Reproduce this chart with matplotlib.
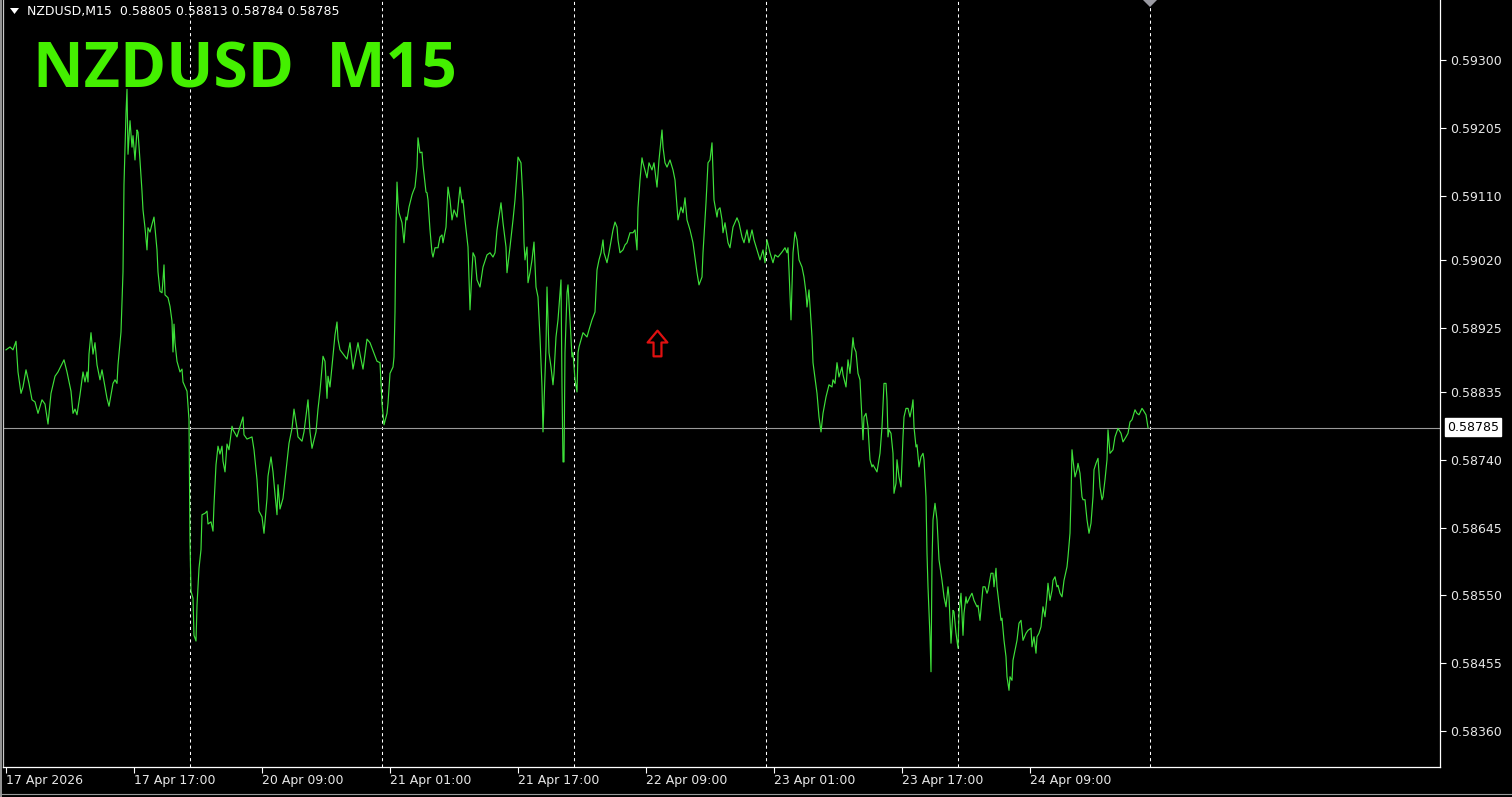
import matplotlib
matplotlib.use("Agg")
import matplotlib.pyplot as plt
from matplotlib.patches import Polygon
from matplotlib.lines import Line2D
from matplotlib.path import Path

# ---------------- data ----------------
symbol_title = "NZDUSD  M15"
header_text = "NZDUSD,M15  0.58805 0.58813 0.58784 0.58785"
last_price = 0.58785

# bar index (M15 bars since 17 Apr 01:00) and close price
bars = [
    0, 2, 3.5, 5, 6, 7.5, 8.5, 10, 11.5, 13, 14.5, 16, 18, 19.5, 21, 22.5, 24.5, 26, 29, 30.5,
    32.5, 33.5, 34.5, 35.5, 37, 38.5, 39.5, 40.5, 41, 41.5, 42.5, 43.5, 44.5, 45.5, 47, 48, 50.5, 51.5, 53.5, 54.5,
    55.5, 56, 57.5, 58, 58.5, 59, 60, 60.5, 61, 62, 63, 63.5, 64.5, 65.5, 66, 67, 68, 68.5, 69.5, 70.5,
    71, 72, 73, 74, 74.5, 75.5, 76, 77, 78, 78.5, 79, 79.5, 81, 82, 83, 83.5, 84, 84.5, 85.5, 87,
    88, 88.5, 90.5, 91, 91.5, 92, 92.5, 93.5, 94, 95, 95.5, 96.5, 97.5, 98, 99.5, 100.5, 101, 102.5, 103.5, 104,
    105, 106, 107, 108, 108.5, 109.5, 110.5, 111.5, 113, 113.5, 115.5, 116, 118.5, 119, 120.5, 123, 124, 125.5, 126.5, 128,
    129, 130.5, 131, 132.5, 133.5, 134.5, 135.5, 136, 137, 138.5, 139.5, 141.5, 143, 144, 145.5, 146, 148, 149, 151, 152,
    153, 155, 156, 157, 158.5, 159.5, 160.5, 161, 162, 164.5, 165.5, 166, 167, 170.5, 172, 173.5, 176, 177, 178.5, 180.5,
    182, 185.5, 187, 188, 189, 190.5, 191, 192, 193.5, 194, 194.5, 195, 195.5, 196, 196.5, 198, 199, 200, 200.5, 201.5,
    203, 203.5, 204.5, 205.5, 206, 207, 208, 208.5, 210, 210.5, 211, 212, 213, 213.5, 214.5, 216, 217, 218, 218.5, 220,
    221, 222, 223, 224, 225.5, 227, 228, 228.5, 229.5, 231, 232, 233, 233.5, 234.5, 235.5, 237, 238.5, 240.5, 242, 243.5,
    244.5, 245.5, 247.5, 248.5, 250, 250.5, 252, 253.5, 254.5, 255.5, 256, 257.5, 258.5, 259, 259.5, 260.5, 261, 262, 263, 264,
    265, 266, 267, 268, 268.5, 269, 270, 270.5, 271, 271.5, 272.5, 273.5, 274, 275, 276, 276.5, 277.5, 278, 278.5, 279,
    279.5, 280.5, 281, 282, 283, 283.5, 284.5, 285.5, 286, 286.5, 287.5, 288.5, 290.5, 291.5, 293, 294.5, 295.5, 296.5, 297.5, 298.5,
    299, 300.5, 301.5, 303.5, 304.5, 305.5, 306, 307, 308.5, 309.5, 310.5, 312, 313.5, 314.5, 315.5, 316, 317, 318, 318.5, 320.5,
    321.5, 323, 324, 325.5, 326.5, 328, 328.5, 329.5, 330.5, 332, 333.5, 334.5, 335.5, 336, 337.5, 338.5, 339.5, 340.5, 342, 343.5,
    345.5, 346.5, 348, 348.5, 350, 351, 352, 353, 354, 355.5, 356, 357, 358, 358.5, 359.5, 361, 362, 363.5, 365.5, 366.5,
    368, 369, 370.5, 371.5, 373, 374, 375.5, 377, 378.5, 379.5, 380.5, 382, 383.5, 384.5, 386, 388, 389.5, 390.5, 391, 391.5,
    392.5, 393.5, 394.5, 395.5, 396.5, 398, 399, 400, 400.5, 401.5, 403, 403.5, 405.5, 406.5, 407.5, 408.5, 410, 411.5, 413, 413.5,
    414.5, 415.5, 416.5, 418, 418.5, 420, 421, 422, 423.5, 424, 425, 426, 427, 428, 428.5, 429, 430, 431, 432, 433,
    433.5, 435.5, 437, 438, 439, 440, 440.5, 441, 441.5, 442.5, 443.5, 444, 445, 445.5, 446.5, 447.5, 448.5, 449, 450, 451,
    452, 453, 453.5, 454, 455, 455.5, 456.5, 457.5, 458.5, 459, 460, 460.5, 461, 462, 462.5, 463, 463.5, 464.5, 465.5, 466.5,
    468, 469, 470, 471, 471.5, 472.5, 473.5, 474, 475, 476, 476.5, 477.5, 478.5, 479, 480, 480.5, 482, 483, 484, 485.5,
    486, 487, 488, 488.5, 489.5, 490.5, 491, 492.5, 493.5, 494, 495, 495.5, 496.5, 497.5, 498, 499, 500, 500.5, 501.5, 502,
    503, 503.5, 504.5, 505.5, 506.5, 507.5, 508, 508.5, 510, 511, 512.5, 513, 514, 515, 515.5, 516.5, 517.5, 518.5, 519.5, 520.5,
    521, 522, 523, 523.5, 524.5, 525.5, 526, 527, 528, 529, 530.5, 531, 532, 532.5, 533, 533.5, 534.5, 535.5, 536, 537,
    538, 538.5, 539.5, 540.5, 541.5, 542.5, 543.5, 544, 545, 546, 547, 548, 548.5, 549.5, 550.5, 551, 552, 553.5, 554.5, 556,
    557.5, 558.5, 560, 561, 562, 563, 564.5, 565.5, 566.5, 568, 568.5, 570, 571,
]
prices = [
    0.58894, 0.58898, 0.58894, 0.58906, 0.58863, 0.58833, 0.58842, 0.58866, 0.58847, 0.58824, 0.58821, 0.58805, 0.58824, 0.58818, 0.58790, 0.58833, 0.58857, 0.58863, 0.58880, 0.58863,
    0.58836, 0.58805, 0.58811, 0.58803, 0.58831, 0.58863, 0.58849, 0.58863, 0.58849, 0.58888, 0.58918, 0.58888, 0.58904, 0.58873, 0.58852, 0.58866, 0.58826, 0.58815, 0.58847, 0.58852,
    0.58847, 0.58873, 0.58919, 0.58961, 0.59003, 0.59126, 0.59226, 0.59259, 0.59168, 0.59215, 0.59178, 0.59194, 0.59160, 0.59202, 0.59199, 0.59159, 0.59116, 0.59090, 0.59065, 0.59034,
    0.59065, 0.59059, 0.59070, 0.59080, 0.59065, 0.59034, 0.59003, 0.58976, 0.58974, 0.58992, 0.59013, 0.58971, 0.58967, 0.58955, 0.58934, 0.58891, 0.58930, 0.58904, 0.58878, 0.58863,
    0.58867, 0.58849, 0.58836, 0.58815, 0.58796, 0.58625, 0.58556, 0.58546, 0.58494, 0.58486, 0.58536, 0.58588, 0.58614, 0.58663, 0.58665, 0.58668, 0.58650, 0.58653, 0.58640, 0.58677,
    0.58733, 0.58759, 0.58748, 0.58759, 0.58738, 0.58723, 0.58762, 0.58754, 0.58787, 0.58782, 0.58772, 0.58777, 0.58800, 0.58775, 0.58769, 0.58772, 0.58754, 0.58712, 0.58668, 0.58660,
    0.58637, 0.58686, 0.58717, 0.58744, 0.58723, 0.58692, 0.58663, 0.58705, 0.58671, 0.58686, 0.58712, 0.58763, 0.58784, 0.58811, 0.58784, 0.58772, 0.58766, 0.58779, 0.58824, 0.58779,
    0.58756, 0.58779, 0.58811, 0.58836, 0.58885, 0.58878, 0.58826, 0.58857, 0.58842, 0.58915, 0.58933, 0.58909, 0.58894, 0.58881, 0.58904, 0.58867, 0.58904, 0.58888, 0.58867, 0.58909,
    0.58904, 0.58878, 0.58876, 0.58819, 0.58789, 0.58805, 0.58819, 0.58861, 0.58870, 0.58884, 0.58947, 0.59066, 0.59129, 0.59100, 0.59086, 0.59072, 0.59044, 0.59080, 0.59076, 0.59094,
    0.59111, 0.59115, 0.59122, 0.59150, 0.59191, 0.59170, 0.59171, 0.59153, 0.59115, 0.59114, 0.59104, 0.59062, 0.59030, 0.59024, 0.59037, 0.59037, 0.59052, 0.59055, 0.59044, 0.59066,
    0.59122, 0.59104, 0.59076, 0.59090, 0.59080, 0.59122, 0.59100, 0.59104, 0.59076, 0.59038, 0.58950, 0.59006, 0.59030, 0.59024, 0.58992, 0.58982, 0.59010, 0.59027, 0.59030, 0.59024,
    0.59030, 0.59062, 0.59100, 0.59072, 0.59038, 0.59002, 0.59038, 0.59076, 0.59104, 0.59142, 0.59164, 0.59156, 0.59104, 0.59044, 0.59020, 0.59038, 0.58988, 0.59002, 0.59020, 0.59045,
    0.58982, 0.58968, 0.58912, 0.58842, 0.58779, 0.58819, 0.58898, 0.58982, 0.58936, 0.58890, 0.58870, 0.58845, 0.58861, 0.58912, 0.58936, 0.58954, 0.58992, 0.58842, 0.58737, 0.58737,
    0.58890, 0.58974, 0.58985, 0.58936, 0.58884, 0.58890, 0.58852, 0.58835, 0.58890, 0.58898, 0.58908, 0.58918, 0.58912, 0.58922, 0.58936, 0.58947, 0.59006, 0.59020, 0.59030, 0.59048,
    0.59030, 0.59016, 0.59030, 0.59062, 0.59073, 0.59066, 0.59048, 0.59030, 0.59034, 0.59041, 0.59044, 0.59058, 0.59058, 0.59062, 0.59034, 0.59093, 0.59132, 0.59163, 0.59156, 0.59135,
    0.59156, 0.59146, 0.59156, 0.59122, 0.59160, 0.59202, 0.59178, 0.59156, 0.59150, 0.59160, 0.59146, 0.59132, 0.59094, 0.59076, 0.59094, 0.59086, 0.59107, 0.59076, 0.59062, 0.59044,
    0.59002, 0.58985, 0.58996, 0.59030, 0.59100, 0.59156, 0.59160, 0.59184, 0.59104, 0.59080, 0.59090, 0.59093, 0.59076, 0.59058, 0.59072, 0.59044, 0.59037, 0.59066, 0.59079, 0.59072,
    0.59052, 0.59044, 0.59062, 0.59044, 0.59062, 0.59048, 0.59034, 0.59020, 0.59034, 0.59016, 0.59048, 0.59030, 0.59016, 0.59027, 0.59024, 0.59031, 0.59037, 0.59030, 0.59037, 0.59006,
    0.58936, 0.59030, 0.59059, 0.59048, 0.59020, 0.59010, 0.58996, 0.58974, 0.58954, 0.58978, 0.58912, 0.58876, 0.58833, 0.58800, 0.58779, 0.58805, 0.58828, 0.58845, 0.58842, 0.58852,
    0.58847, 0.58876, 0.58856, 0.58870, 0.58859, 0.58842, 0.58880, 0.58861, 0.58911, 0.58898, 0.58891, 0.58861, 0.58852, 0.58796, 0.58768, 0.58800, 0.58805, 0.58786, 0.58740, 0.58730,
    0.58733, 0.58723, 0.58749, 0.58786, 0.58847, 0.58847, 0.58824, 0.58772, 0.58782, 0.58777, 0.58749, 0.58693, 0.58707, 0.58740, 0.58716, 0.58702, 0.58772, 0.58800, 0.58812, 0.58812,
    0.58800, 0.58814, 0.58824, 0.58786, 0.58758, 0.58761, 0.58730, 0.58744, 0.58749, 0.58740, 0.58688, 0.58609, 0.58562, 0.58492, 0.58443, 0.58595, 0.58656, 0.58679, 0.58656, 0.58600,
    0.58571, 0.58548, 0.58534, 0.58562, 0.58548, 0.58483, 0.58529, 0.58527, 0.58497, 0.58476, 0.58525, 0.58553, 0.58494, 0.58525, 0.58548, 0.58539, 0.58548, 0.58553, 0.58543, 0.58534,
    0.58536, 0.58515, 0.58546, 0.58562, 0.58562, 0.58553, 0.58557, 0.58581, 0.58581, 0.58562, 0.58588, 0.58562, 0.58539, 0.58515, 0.58518, 0.58487, 0.58464, 0.58436, 0.58417, 0.58436,
    0.58431, 0.58459, 0.58473, 0.58487, 0.58511, 0.58515, 0.58501, 0.58487, 0.58497, 0.58501, 0.58504, 0.58478, 0.58492, 0.58469, 0.58492, 0.58497, 0.58506, 0.58534, 0.58520, 0.58548,
    0.58567, 0.58543, 0.58557, 0.58571, 0.58576, 0.58562, 0.58564, 0.58553, 0.58548, 0.58571, 0.58590, 0.58604, 0.58637, 0.58688, 0.58754, 0.58740, 0.58716, 0.58726, 0.58735, 0.58721,
    0.58688, 0.58684, 0.58684, 0.58656, 0.58637, 0.58651, 0.58688, 0.58726, 0.58735, 0.58742, 0.58702, 0.58684, 0.58688, 0.58712, 0.58740, 0.58782, 0.58749, 0.58754, 0.58772, 0.58784,
    0.58777, 0.58765, 0.58772, 0.58777, 0.58793, 0.58796, 0.58810, 0.58805, 0.58803, 0.58812, 0.58810, 0.58803, 0.58785,
]

ytick_values = [0.59300, 0.59205, 0.59110, 0.59020, 0.58925, 0.58835, 0.58740, 0.58645, 0.58550, 0.58455, 0.58360]
xtick_bars = [0, 64, 128, 192, 256, 320, 384, 448, 512]
xtick_labels = ["17 Apr 2026", "17 Apr 17:00", "20 Apr 09:00", "21 Apr 01:00", "21 Apr 17:00",
                "22 Apr 09:00", "23 Apr 01:00", "23 Apr 17:00", "24 Apr 09:00"]
day_separator_bars = [92, 188, 284, 380, 476, 572]
arrow_bar, arrow_price = 325.5, 0.58904

# ---------------- styling ----------------
W, H, DPI = 1512, 797, 100
LINE_GREEN = "#3ee03a"
TITLE_GREEN = "#44f000"
AXIS_TEXT = "#e8e8e8"

fig = plt.figure(figsize=(W / DPI, H / DPI), dpi=DPI, facecolor="black")


def fx(x):
    return x / W


def fy(y):
    return 1 - y / H


ax = fig.add_axes([fx(3), fy(767), (1440 - 3) / W, 767 / H])
ax.set_facecolor("black")
ax.set_xlim(-1.5, 717)
ax.set_ylim(0.5830957, 0.593841)

ax.plot(bars, prices, color=LINE_GREEN, lw=0.85, zorder=3)
ax.axhline(last_price, color="#9a9a9a", lw=0.8, zorder=2)
for b in day_separator_bars:
    ax.axvline(b, color="white", lw=0.75, ls=(0, (3, 3)), zorder=1)

# hollow block up-arrow marker (red outline)
arrow_shape = Path([(0, 13), (10, 1), (4, 1), (4, -13), (-4, -13), (-4, 1), (-10, 1), (0, 13)],
                   [Path.MOVETO] + [Path.LINETO] * 6 + [Path.CLOSEPOLY])
ax.plot([arrow_bar], [arrow_price], marker=arrow_shape, markersize=18.5, mfc="none",
        mec="#e01010", mew=1.6, ls="none", zorder=4)

ax.spines["top"].set_visible(False)
ax.spines["left"].set_color("#c8c8c8")
ax.spines["right"].set_color("white")
ax.spines["bottom"].set_color("white")
for s in ("left", "right", "bottom"):
    ax.spines[s].set_linewidth(0.9)

ax.yaxis.tick_right()
ax.set_yticks(ytick_values)
ax.set_yticklabels([f"{v:.5f}" for v in ytick_values])
ax.tick_params(axis="y", direction="out", length=4, width=0.8, color="white",
               labelcolor=AXIS_TEXT, labelsize=9, pad=3)
ax.set_xticks(xtick_bars)
ax.set_xticklabels(xtick_labels)
ax.tick_params(axis="x", direction="out", length=4, width=0.8, color="white",
               labelcolor=AXIS_TEXT, labelsize=9, pad=1)
for lbl in ax.get_xticklabels():
    lbl.set_horizontalalignment("left")

# current price label on the axis
fig.text(fx(1447), fy(427), f"{last_price:.5f}", color="black", fontsize=9, va="center", ha="left",
         bbox=dict(boxstyle="square,pad=0.18", fc="white", ec="white"))

# title and header
fig.text(fx(33), fy(88), symbol_title, color=TITLE_GREEN, fontsize=45, fontweight="bold",
         family=["Open Sans", "DejaVu Sans"], va="baseline", ha="left")
fig.text(fx(27), fy(12), header_text, color="white", fontsize=9, va="center", ha="left")
fig.patches.append(Polygon([(fx(10), fy(8)), (fx(19), fy(8)), (fx(14.5), fy(14))], closed=True,
                           fc="white", ec="none", transform=fig.transFigure))
# shift marker
fig.patches.append(Polygon([(fx(1143), fy(0)), (fx(1157), fy(0)), (fx(1150), fy(7))], closed=True,
                           fc="#9a9aa2", ec="none", transform=fig.transFigure))
# window frame lines
fig.lines.append(Line2D([fx(1), fx(1)], [0, 1], color="#b0b0b0", lw=1.2, transform=fig.transFigure))
fig.lines.append(Line2D([0, 1], [fy(794), fy(794)], color="#9a9a9a", lw=0.8, transform=fig.transFigure))

fig.savefig("out.png", dpi=DPI, facecolor="black")
